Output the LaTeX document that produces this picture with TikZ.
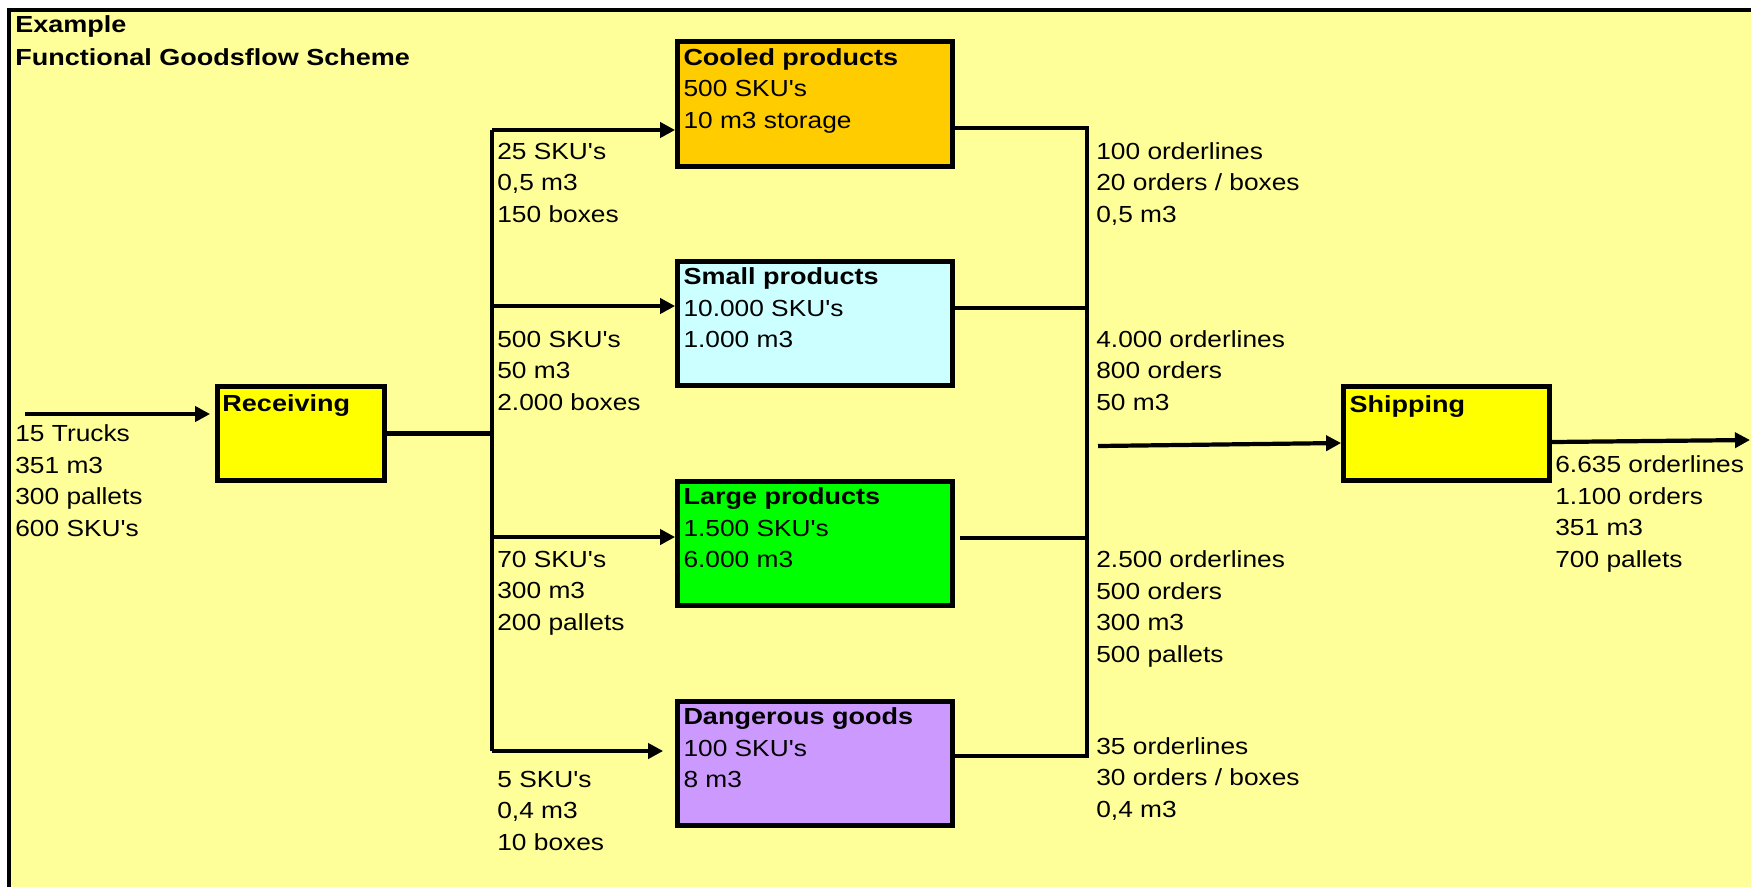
\documentclass[tikz,border=0pt]{standalone}
\usepackage{fontspec}
\setmainfont{Liberation Sans}[FakeStretch=1.13, Ligatures=TeXOff, BoldFeatures={FakeStretch=1.16}]
\usetikzlibrary{arrows.meta}
\definecolor{sheet}{RGB}{255,255,153}
\definecolor{cooledc}{RGB}{255,204,0}
\definecolor{smallc}{RGB}{204,255,255}
\definecolor{largec}{RGB}{0,255,0}
\definecolor{dangerc}{RGB}{204,153,255}
\definecolor{dockc}{RGB}{255,255,0}
\newcommand\figfont{\fontsize{13.25}{17.9}\selectfont}

\begin{document}
\begin{tikzpicture}[x=0.02cm, y=-0.02cm,
    area/.style={draw, line width=3pt, inner sep=0pt, minimum width=5.49cm, minimum height=2.49cm},
    dock/.style={area, fill=dockc, minimum height=1.87cm},
    flow/.style={line width=2.4pt, -{Triangle[length=0.3cm,width=0.3cm]}},
    link/.style={line width=2.4pt},
    info/.style={anchor=base west, inner sep=0pt, align=left, font=\figfont}]
  \useasboundingbox (0,0) rectangle (1751,887);
  %sheet
  \fill[white] (0,0) rectangle (1751,887);
  \fill[sheet] (9,10) rectangle (1751,887);
  \draw[line width=2.3pt] (9,887) -- (9,10) -- (1751,10);
  % info nodes sit on the baseline of their last line
  \node[info] (title) at (15,65) {\bfseries Example\\[0.03cm]\bfseries Functional Goodsflow Scheme};

  %docks
  \node[dock, minimum width=3.33cm] (receiving) at (301,433.5) {};
  \node[dock, minimum width=4.11cm] (shipping) at (1446.5,433.5) {};
  \node[info] (receivingtxt) at ([shift={(7,27)}]receiving.north west) {\bfseries Receiving};
  \node[info] (shippingtxt) at ([shift={(8,28)}]shipping.north west) {\bfseries Shipping};

  %storage areas
  \node[area, fill=cooledc] (cooled) at (815,104) {};
  \node[area, fill=smallc] (small) at (815,323.5) {};
  \node[area, fill=largec] (large) at (815,543.5) {};
  \node[area, fill=dangerc] (danger) at (815,763.5) {};
  \node[info] (cooledtxt) at ([shift={(8,89)}]cooled.north west) {\bfseries Cooled products\\500 SKU's\\10 m3 storage};
  \node[info] (smalltxt) at ([shift={(8,89)}]small.north west) {\bfseries Small products\\10.000 SKU's\\1.000 m3};
  \node[info] (largetxt) at ([shift={(8,89)}]large.north west) {\bfseries Large products\\1.500 SKU's\\6.000 m3};
  \node[info] (dangertxt) at ([shift={(8,89)}]danger.north west) {\bfseries Dangerous goods\\100 SKU's\\8 m3};

  %incoming
  \coordinate (gate) at (25,414);
  \draw[flow, shorten >=0.1cm] (gate) -- (gate -| receiving.west);
  \node[info] (trucks) at (15,536) {15 Trucks\\351 m3\\300 pallets\\600 SKU's};

  %split to the areas
  \coordinate (lbtop) at (492,130);
  \coordinate (lbsmall) at (492,306);
  \coordinate (lblarge) at (492,537);
  \coordinate (lbbot) at (492,751);
  \draw[link] (receiving.east) -- (receiving.east -| lbtop);
  \draw[link] (lbtop) -- (lbbot);
  \draw[flow] (lbtop) -- (lbtop -| cooled.west);
  \draw[flow] (lbsmall) -- (lbsmall -| small.west);
  \draw[flow] (lblarge) -- (lblarge -| large.west);
  \draw[flow, shorten >=0.24cm] (lbbot) -- (lbbot -| danger.west);
  \node[info] (cooledin) at (497,222) {25 SKU's\\0,5 m3\\150 boxes};
  \node[info] (smallin) at (497,410) {500 SKU's\\50 m3\\2.000 boxes};
  \node[info] (largein) at (497,630) {70 SKU's\\300 m3\\200 pallets};
  \node[info] (dangerin) at (497,850) {5 SKU's\\0,4 m3\\10 boxes};

  %collect from the areas
  \coordinate (rbtop) at (1087,128);
  \coordinate (rbsmall) at (1087,308);
  \coordinate (rblarge) at (1087,538);
  \coordinate (rbbot) at (1087,756);
  \draw[link] (cooled.east |- rbtop) -- (rbtop) -- (rbbot) -- (danger.east |- rbbot);
  \draw[link] (small.east |- rbsmall) -- (rbsmall);
  \draw[link, shorten <=0.11cm] (large.east |- rblarge) -- (rblarge);
  \node[info] (cooledout) at (1096,222) {100 orderlines\\20 orders / boxes\\0,5 m3};
  \node[info] (smallout) at (1096,410) {4.000 orderlines\\800 orders\\50 m3};
  \node[info] (largeout) at (1096,662) {2.500 orderlines\\500 orders\\300 m3\\500 pallets};
  \node[info] (dangerout) at (1096,817) {35 orderlines\\30 orders / boxes\\0,4 m3};

  %outgoing
  \coordinate (rbout) at (1098,446);
  \coordinate (exit) at (1750,440);
  \draw[flow] (rbout) -- (shipping.west |- 0,443);
  \draw[flow] (shipping.east |- 0,442) -- (exit);
  \node[info] (shipout) at (1555,567) {6.635 orderlines\\1.100 orders\\351 m3\\700 pallets};
\end{tikzpicture}
\end{document}
